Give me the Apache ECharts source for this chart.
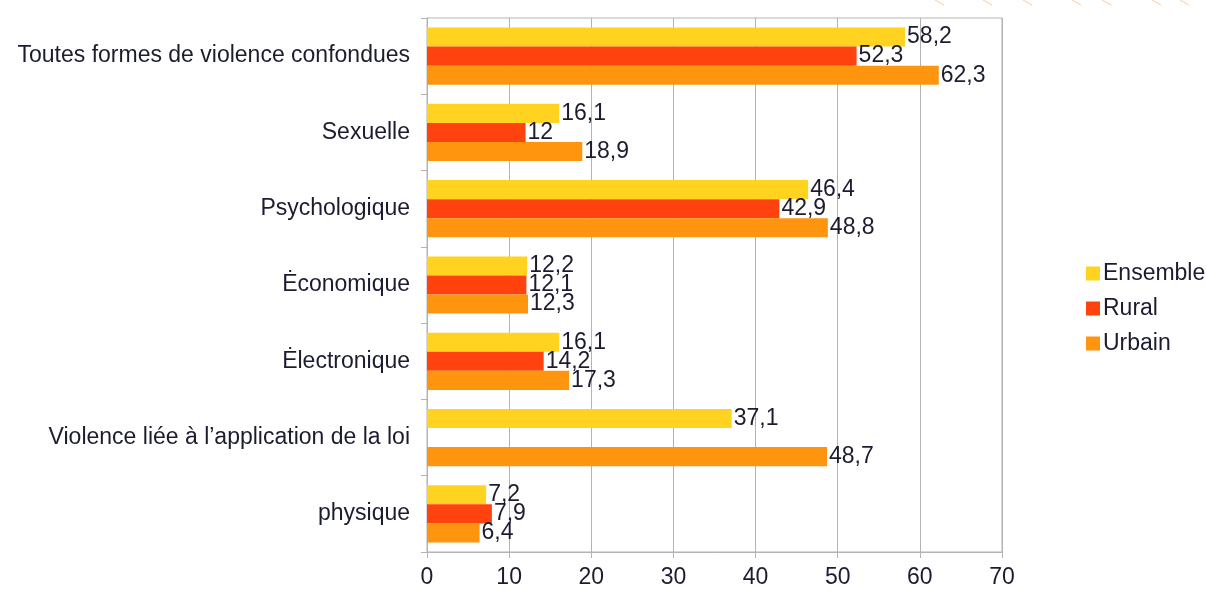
<!DOCTYPE html>
<html>
<head>
<meta charset="utf-8">
<script src="https://cdn.jsdelivr.net/npm/echarts@6/dist/echarts.min.js"></script>
<style>
  html, body { margin: 0; padding: 0; background: #fff; }
  #chart { width: 1206px; height: 590px; }
</style>
</head>
<body>
<div id="chart"></div>
<script>
// categories, top to bottom
let categories = [
  'Toutes formes de violence confondues',
  'Sexuelle',
  'Psychologique',
  'Ėconomique',
  'Ėlectronique',
  'Violence liée à l\u2019application de la loi',
  'physique'
];
let ensemble = [58.2, 16.1, 46.4, 12.2, 16.1, 37.1, 7.2];
let rural    = [52.3, 12, 42.9, 12.1, 14.2, null, 7.9];
let urbain   = [62.3, 18.9, 48.8, 12.3, 17.3, 48.7, 6.4];
let seriesNames = ['Ensemble', 'Rural', 'Urbain'];
let colors = ['#ffd320', '#ff420e', '#ff950e'];

let font = '"Liberation Sans", Arial, sans-serif';
let textColor = '#1c1c30';
let fs = 23;

let chart = echarts.init(document.getElementById('chart'), null, {renderer: 'canvas'});

let mkSeries = (name, data, color) => ({
  name: name,
  type: 'bar',
  data: data,
  barGap: '0%',
  barCategoryGap: '25%',
  itemStyle: {color: color},
  label: {
    show: true,
    position: 'right',
    distance: 2,
    fontFamily: font,
    fontSize: fs,
    color: textColor,
    formatter: p => String(p.value).replace('.', ',')
  }
});

// small decorative strokes at the top right
let deco = [935, 983, 1023, 1072, 1102, 1152, 1180].map(x => ({
  type: 'line',
  shape: {x1: x, y1: 0, x2: x + 9, y2: 5},
  style: {stroke: '#fbc9a0', lineWidth: 1}
}));

chart.setOption({
  animation: false,
  backgroundColor: '#fff',
  color: colors,
  grid: {
    left: 427, right: 204, top: 18, bottom: 38,
    show: true, borderColor: '#b3b3b3', borderWidth: 1
  },
  legend: {
    orient: 'vertical',
    left: 1081, top: 257,
    itemWidth: 14, itemHeight: 14, itemGap: 12,
    icon: 'rect',
    textStyle: {fontFamily: font, fontSize: fs, lineHeight: 22, color: textColor, padding: [0, 0, 0, -2]},
    data: seriesNames
  },
  xAxis: {
    type: 'value',
    min: 0, max: 70, interval: 10,
    axisLine: {show: true, lineStyle: {color: '#b3b3b3'}},
    axisTick: {show: true, length: 6, lineStyle: {color: '#b3b3b3'}},
    splitLine: {show: true, lineStyle: {color: '#b3b3b3'}},
    axisLabel: {fontFamily: font, fontSize: fs, color: textColor, margin: 14}
  },
  yAxis: {
    type: 'category',
    inverse: true,
    data: categories,
    axisLine: {show: true, lineStyle: {color: '#b3b3b3'}},
    axisTick: {show: true, length: 6, lineStyle: {color: '#b3b3b3'}},
    axisLabel: {fontFamily: font, fontSize: fs, color: textColor, margin: 17}
  },
  series: [
    mkSeries(seriesNames[0], ensemble, colors[0]),
    mkSeries(seriesNames[1], rural, colors[1]),
    mkSeries(seriesNames[2], urbain, colors[2])
  ],
  graphic: deco
});
</script>
</body>
</html>
